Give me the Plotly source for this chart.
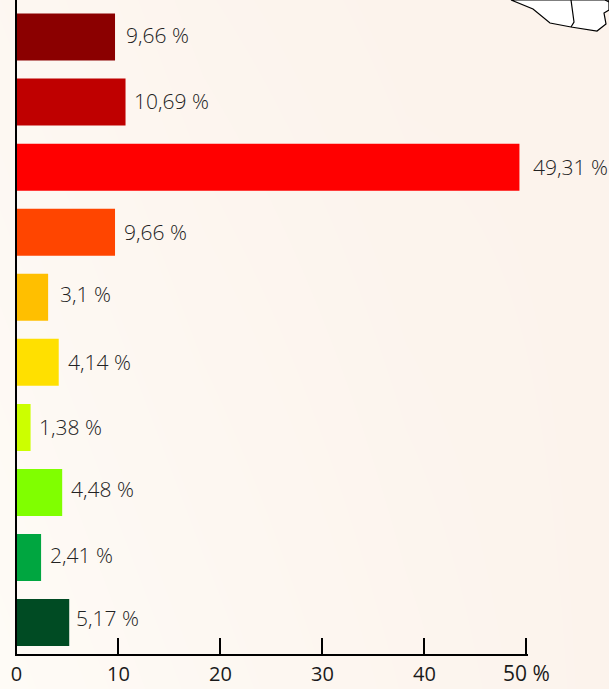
import plotly.graph_objects as go

values = [5.17, 2.41, 4.48, 1.38, 4.14, 3.1, 9.66, 49.31, 10.69, 9.66]
labels = ["5,17 %", "2,41 %", "4,48 %", "1,38 %", "4,14 %", "3,1 %", "9,66 %", "49,31 %", "10,69 %", "9,66 %"]
positions = list(range(10))
colors = ["#004b23", "#00a640", "#80ff00", "#ccff00", "#ffe000", "#ffbf00", "#ff4500", "#ff0000", "#bf0000", "#8b0000"]
tick_vals = [0, 10, 20, 30, 40, 50]
tick_text = ["0", "10", "20", "30", "40", ""]

bg_z = [[0.0, 0.35, 0.7, 1.0], [0.15, 0.5, 0.8, 1.0], [0.3, 0.65, 0.9, 1.0], [0.45, 0.8, 1.0, 1.0]]
bg_scale = [[0, "#fefbf6"], [1, "#fcf3ec"]]

# map fragment in the top right corner, in axis units of the background panel (pixels)
map_x = [511, 533, 550, 571, 597, 606, 604, 609, 609, 511]
map_y = [0, 9, 23, 27, 31, 24, 13, 10, 0, 0]
border_x = [571, 574, 571]
border_y = [0, 22, 27]
corner_x = [605, 609]
corner_y = [0, 2]

fig = go.Figure()
fig.add_trace(go.Heatmap(z=bg_z, x=[0, 203, 406, 609], y=[689, 459, 230, 0], colorscale=bg_scale,
                         showscale=False, zsmooth="best", hoverinfo="skip", xaxis="x", yaxis="y"))
fig.add_trace(go.Scatter(x=map_x, y=map_y, mode="lines", fill="toself", fillcolor="#ffffff",
                         line=dict(color="#000000", width=1.2), xaxis="x", yaxis="y", hoverinfo="skip"))
fig.add_trace(go.Scatter(x=border_x, y=border_y, mode="lines", line=dict(color="#000000", width=1.2),
                         xaxis="x", yaxis="y", hoverinfo="skip"))
fig.add_trace(go.Scatter(x=corner_x, y=corner_y, mode="lines", line=dict(color="#000000", width=1.2),
                         xaxis="x", yaxis="y", hoverinfo="skip"))
fig.add_trace(go.Bar(x=values, y=positions, orientation="h", marker=dict(color=colors, line_width=0),
                     xaxis="x2", yaxis="y2", hoverinfo="skip", cliponaxis=False))

x_nudges = [5, 7, 7, 6, 7, 10, 7, 12, 6, 9]
y_nudges = [5, 3, 3, 0, 0, 3, 0, 0, 1, 2]
annotations = [dict(x=v, y=p, text=t, xref="x2", yref="y2", xanchor="left", yanchor="middle", showarrow=False,
                    xshift=dx, yshift=dy, font=dict(family="Open Sans", size=21, color="#222222", weight=300))
               for v, p, t, dx, dy in zip(values, positions, labels, x_nudges, y_nudges)]
annotations.append(dict(x=50, y=0, xref="x2", yref="paper", text="50 %", xanchor="left", yanchor="bottom",
                        xshift=-25, yshift=0, showarrow=False,
                        font=dict(family="Open Sans", size=21, color="#1a1a1a")))

fig.update_layout(
    width=609, height=689, margin=dict(l=0, r=0, t=0, b=0), showlegend=False,
    paper_bgcolor="#fdf8f2", plot_bgcolor="rgba(0,0,0,0)", bargap=0.278,
    annotations=annotations,
    xaxis=dict(domain=[0, 1], range=[0, 609], visible=False, fixedrange=True),
    yaxis=dict(domain=[0, 1], range=[689, 0], visible=False, fixedrange=True),
    xaxis2=dict(domain=[16.5 / 609, 528 / 609], range=[0, 50.15], anchor="y2", tickvals=tick_vals, ticktext=tick_text,
                ticks="inside", ticklen=16, tickwidth=2, tickcolor="#000000", showline=True, linecolor="#000000",
                linewidth=2, showgrid=False, zeroline=False, automargin=False, ticklabelstandoff=1,
                tickfont=dict(family="Open Sans", size=20, color="#1a1a1a")),
    yaxis2=dict(domain=[35.5 / 689, 1], range=[-0.475, 9.569], anchor="x2", showticklabels=False, ticks="",
                showline=True, linecolor="#000000", linewidth=2, showgrid=False, zeroline=False, automargin=False),
)
fig.write_html("out.html", config={"displayModeBar": False},
               post_script="document.body.style.margin='0';document.documentElement.style.overflow='hidden';")
